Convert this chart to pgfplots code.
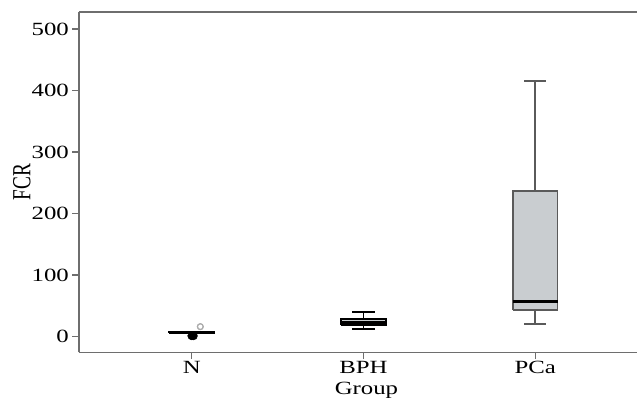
\documentclass[border=0pt]{standalone}
\usepackage{fontspec}
\setmainfont{Liberation Serif}
\newfontfamily\wide[FakeStretch=1.33]{Liberation Serif}
\usepackage{pgfplots}
\pgfplotsset{compat=1.18}
\definecolor{axgray}{HTML}{6E6E6E}
\definecolor{boxfill}{HTML}{C9CDD0}
\definecolor{boxedge}{HTML}{5A5A5A}
\begin{document}
\begin{tikzpicture}
\begin{axis}[
    at={(0,0)}, anchor=south west,
    scale only axis,
    width=419.25pt, height=255.75pt,
    xmin=0.343, xmax=3.593,
    ymin=-26, ymax=527.6,
    axis x line*=bottom, axis y line*=left,
    axis line style={-, draw=axgray, line width=1.4pt},
    tick style={draw=axgray, line width=1pt},
    tick align=outside,
    major tick length=5pt,
    xtick={1,2,3},
    xticklabels={N,BPH,PCa},
    ytick={0,100,200,300,400,500},
    /pgf/number format/assume math mode=true,
    tick label style={font=\wide\fontsize{14}{15}\selectfont, black},
    yticklabel style={xshift=1pt},
    xticklabel style={yshift=2pt},
    every axis y label/.style={at={(axis description cs:-0.102,0.5)}, anchor=center, rotate=90, font=\fontsize{14.5}{15}\selectfont},
    every axis x label/.style={at={(axis description cs:0,0)}, anchor=center, xshift=216pt, yshift=-28.5pt, font=\wide\fontsize{14}{15}\selectfont},
    ylabel={\scalebox{1}[1.35]{FCR}},
    xlabel={Group},
    clip=false,
    line join=miter,
  ]
  % PCa: whiskers, box, median
  \addplot[boxedge, line width=1.4pt] coordinates {(3,236) (3,416)};
  \addplot[boxedge, line width=1.4pt] coordinates {(2.935,416) (3.065,416)};
  \addplot[boxedge, line width=1.4pt] coordinates {(3,43) (3,21)};
  \addplot[boxedge, line width=1.4pt] coordinates {(2.935,21) (3.065,21)};
  \addplot[draw=boxedge, fill=boxfill, line width=1.4pt] coordinates {(2.87,43) (3.13,43) (3.13,236) (2.87,236) (2.87,43)};
  \addplot[black, line width=2.3pt] coordinates {(2.87,57) (3.13,57)};
  % BPH
  \addplot[black, line width=1.4pt] coordinates {(2,28) (2,40)};
  \addplot[black, line width=1.4pt] coordinates {(1.935,40) (2.065,40)};
  \addplot[black, line width=1.4pt] coordinates {(2,18) (2,12)};
  \addplot[black, line width=1.4pt] coordinates {(1.935,12) (2.065,12)};
  \addplot[draw=black, fill=boxfill, line width=1.5pt] coordinates {(1.87,18) (2.13,18) (2.13,28) (1.87,28) (1.87,18)};
  \addplot[black, line width=2.5pt] coordinates {(1.87,22.5) (2.13,22.5)};
  % N
  \addplot[draw=black, fill=boxfill, line width=1.5pt] coordinates {(0.87,5) (1.13,5) (1.13,8) (0.87,8) (0.87,5)};
  \addplot[black, line width=2.5pt] coordinates {(0.87,6.5) (1.13,6.5)};
  \addplot[only marks, mark=*, mark size=3pt, black] coordinates {(1,1) (1.01,1)};
  \addplot[only marks, mark=o, mark size=2.2pt, boxedge!50, line width=0.8pt] coordinates {(1.05,16) (1.05,16)};
  \draw[axgray, line width=1.4pt] (rel axis cs:0,1) -- (rel axis cs:1,1);
\end{axis}
\useasboundingbox (-59.25pt,-36pt) rectangle (419.25pt,264.75pt);
\end{tikzpicture}
\end{document}
